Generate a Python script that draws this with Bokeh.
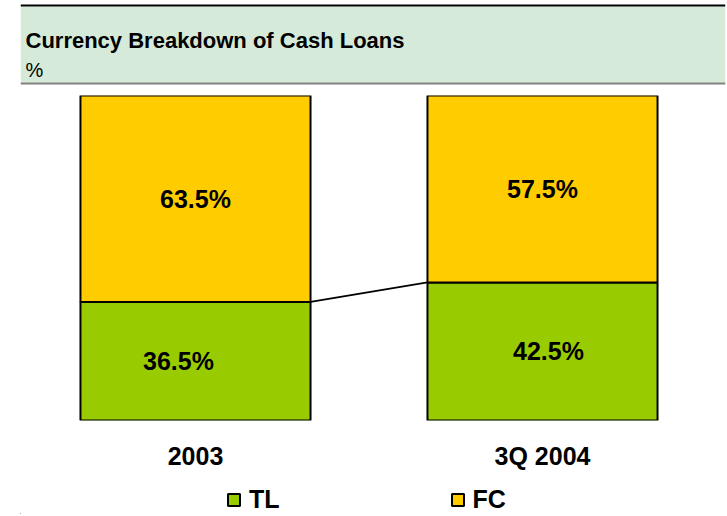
from bokeh.plotting import figure
from bokeh.models import ColumnDataSource, Range1d, Legend, LegendItem, FixedTicker
from bokeh.layouts import column
from bokeh.core.properties import value
from bokeh.embed import file_html
from bokeh.resources import INLINE

# ---- data ----
categories = ["2003", "3Q 2004"]
tl_share = [36.5, 42.5]
fc_share = [63.5, 57.5]
series_names = ["TL", "FC"]
title_text = "Currency Breakdown of Cash Loans"
unit_text = "%"

GREEN = "#99CC00"
YELLOW = "#FFCC00"
HEADER = "#D5EAD8"
FONT = "Liberation Sans"
BAR_W = 0.663
series_colors = [GREEN, YELLOW]

W = 727
BL, BR = 20, 2            # identical side borders so the column keeps frames aligned
FRAME_W = W - BL - BR      # 705 px
PX_PER_UNIT = 347.0
X0 = 0.5 - 175 / PX_PER_UNIT


def bare(fig):
    fig.axis.visible = False
    fig.grid.visible = False
    fig.outline_line_color = None


# ---- header ----
H_HEAD = 90
head = figure(width=W, height=H_HEAD, output_backend="svg", toolbar_location=None,
              x_range=Range1d(BL, W - BR), y_range=Range1d(H_HEAD, 0),
              min_border_left=BL, min_border_right=BR, min_border_top=0, min_border_bottom=0)
bare(head)
head.quad(left=[BL], right=[W - BR], top=[6], bottom=[82], fill_color=HEADER, line_color=None)
head.quad(left=[BL], right=[W - BR], top=[4], bottom=[6], fill_color="black", line_color=None)
head.quad(left=[BL], right=[W - BR], top=[82], bottom=[84], fill_color="#7F7F7F", line_color=None)
head.text(x=[25], y=[39.5], text=[title_text], text_font=value(FONT), text_font_style="bold",
          text_font_size="22px", text_baseline="alphabetic", text_color="black")
head.text(x=[25], y=[69], text=[unit_text], text_font=value(FONT),
          text_font_size="20px", text_baseline="alphabetic", text_color="black")

# ---- main chart ----
xpos = [i + 0.5 for i in range(len(categories))]
src = ColumnDataSource(data=dict(x=xpos, TL=tl_share, FC=fc_share))
p = figure(width=W, height=382, output_backend="svg", toolbar_location=None,
           x_range=Range1d(X0, X0 + FRAME_W / PX_PER_UNIT), y_range=Range1d(0, 100),
           min_border_left=BL, min_border_right=BR, min_border_top=5, min_border_bottom=50)
p.outline_line_color = None
p.grid.visible = False
p.yaxis.visible = False
p.xaxis.ticker = FixedTicker(ticks=xpos)
p.xaxis.major_label_overrides = {x: c for x, c in zip(xpos, categories)}
p.xaxis.axis_line_color = None
p.xaxis.major_tick_line_color = None
p.xaxis.minor_tick_line_color = None
p.xaxis.major_tick_out = 0
p.xaxis.major_tick_in = 0
p.xaxis.major_label_standoff = 21
p.xaxis.major_label_text_font = FONT
p.xaxis.major_label_text_font_style = "bold"
p.xaxis.major_label_text_font_size = "25px"
p.xaxis.major_label_text_color = "black"

rs = p.vbar_stack(series_names, x="x", width=BAR_W, color=series_colors,
                  line_color="black", line_width=2, source=src)

# connector between TL tops
p.line(x=[xpos[0] + BAR_W / 2, xpos[1] - BAR_W / 2],
       y=[tl_share[0], tl_share[1]], line_color="black", line_width=2)

# value labels (small horizontal nudges for the TL labels, as in the original)
nudge_px = [-17, 6]
lab_x, lab_y, lab_t = [], [], []
for i in range(len(categories)):
    lab_x += [xpos[i] + nudge_px[i] / PX_PER_UNIT, xpos[i]]
    lab_y += [tl_share[i] / 2, tl_share[i] + fc_share[i] / 2]
    lab_t += [f"{tl_share[i]:.1f}%", f"{fc_share[i]:.1f}%"]
lsrc = ColumnDataSource(data=dict(x=lab_x, y=lab_y, t=lab_t))
p.text(x="x", y="y", text="t", source=lsrc, text_align="center",
       text_baseline="middle", text_font=value(FONT), text_font_style="bold",
       text_font_size="25px", text_color="black")

# ---- legend strip (swatches mirror the bar styling; their bars sit outside the visible range) ----
leg = figure(width=W, height=42, output_backend="svg", toolbar_location=None,
             x_range=Range1d(0, 1), y_range=Range1d(0, 1),
             min_border_left=BL, min_border_right=BR, min_border_top=0, min_border_bottom=0)
bare(leg)
swatches = [leg.vbar(x=[-5], top=[-5], bottom=[-6], width=0.1, fill_color=c,
                     line_color="black", line_width=2)
            for c in series_colors]
legend = Legend(items=[LegendItem(label=n, renderers=[r]) for n, r in zip(series_names, swatches)],
                orientation="horizontal", location=(206, 0), spacing=170,
                glyph_width=15, glyph_height=15, label_standoff=8,
                label_text_font=FONT, label_text_font_style="bold", label_text_font_size="25px",
                label_text_color="black",
                border_line_color=None, background_fill_alpha=0, padding=0, margin=0)
leg.add_layout(legend, "center")

layout = column(head, p, leg, spacing=0)
open("out.html", "w").write(file_html(layout, INLINE))
